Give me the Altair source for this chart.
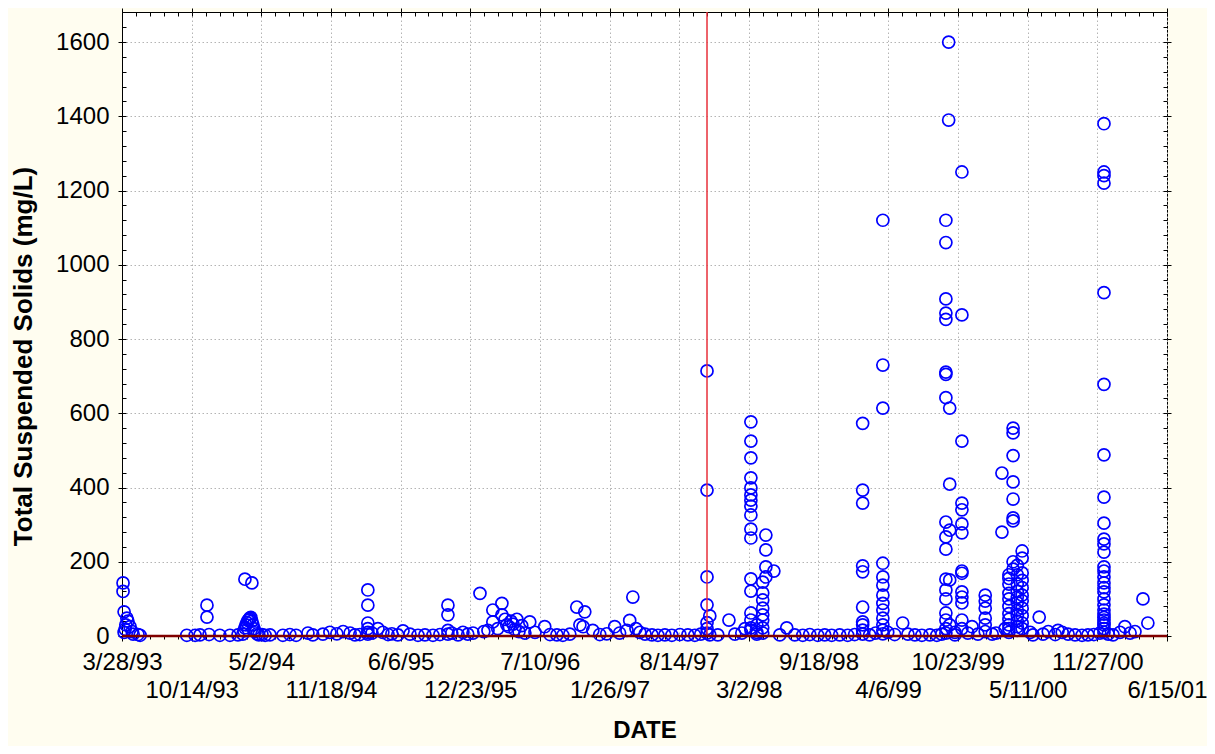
import altair as alt
import pandas as pd

# sampling dates and the TSS values (mg/L) measured on each date
event_dates = [
    "1993-03-31", "1993-04-03", "1993-04-06", "1993-04-08", "1993-04-11", "1993-04-14",
    "1993-04-20", "1993-04-26", "1993-04-29", "1993-05-13", "1993-05-19", "1993-09-30",
    "1993-10-24", "1993-11-07", "1993-11-27", "1993-12-03", "1994-01-03", "1994-02-01",
    "1994-02-24", "1994-03-10", "1994-03-13", "1994-03-16", "1994-03-19", "1994-03-22",
    "1994-03-25", "1994-03-28", "1994-03-30", "1994-04-02", "1994-04-05", "1994-04-08",
    "1994-04-11", "1994-04-14", "1994-04-20", "1994-04-25", "1994-05-04", "1994-05-13",
    "1994-05-27", "1994-07-03", "1994-07-23", "1994-08-10", "1994-09-13", "1994-09-27",
    "1994-10-26", "1994-11-15", "1994-12-05", "1994-12-23", "1995-01-12", "1995-01-26",
    "1995-02-09", "1995-03-04", "1995-03-16", "1995-04-02", "1995-04-16", "1995-05-01",
    "1995-05-12", "1995-05-29", "1995-06-13", "1995-07-03", "1995-07-26", "1995-08-15",
    "1995-09-07", "1995-09-27", "1995-10-20", "1995-10-31", "1995-11-18", "1995-12-02",
    "1995-12-16", "1995-12-31", "1996-01-20", "1996-01-31", "1996-02-12", "1996-02-26",
    "1996-03-11", "1996-03-23", "1996-04-01", "1996-04-06", "1996-04-12", "1996-04-18",
    "1996-04-24", "1996-04-29", "1996-05-05", "1996-05-11", "1996-05-19", "1996-05-28",
    "1996-06-11", "1996-06-26", "1996-07-24", "1996-08-08", "1996-08-28", "1996-09-14",
    "1996-10-04", "1996-10-24", "1996-11-02", "1996-11-11", "1996-11-16", "1996-12-09",
    "1996-12-29", "1997-01-18", "1997-02-10", "1997-02-24", "1997-03-17", "1997-03-25",
    "1997-04-03", "1997-04-12", "1997-04-23", "1997-05-08", "1997-05-28", "1997-06-14",
    "1997-07-04", "1997-07-24", "1997-08-16", "1997-09-08", "1997-09-28", "1997-10-15",
    "1997-11-02", "1997-11-10", "1997-12-03", "1998-01-04", "1998-01-21", "1998-02-10",
    "1998-02-19", "1998-03-08", "1998-03-25", "1998-04-11", "1998-04-20", "1998-05-13",
    "1998-05-30", "1998-06-19", "1998-07-12", "1998-08-04", "1998-08-24", "1998-09-16",
    "1998-10-06", "1998-10-26", "1998-11-18", "1998-12-11", "1998-12-31", "1999-01-23",
    "1999-02-12", "1999-03-01", "1999-03-22", "1999-04-05", "1999-04-25", "1999-05-18",
    "1999-06-02", "1999-06-22", "1999-07-12", "1999-08-04", "1999-08-24", "1999-09-07",
    "1999-09-19", "1999-09-27", "1999-09-30", "1999-10-15", "1999-11-04", "1999-11-21",
    "1999-12-03", "1999-12-20", "2000-01-10", "2000-01-30", "2000-02-10", "2000-02-27",
    "2000-03-07", "2000-03-18", "2000-03-30", "2000-04-11", "2000-04-25", "2000-05-18",
    "2000-05-26", "2000-06-13", "2000-06-24", "2000-07-09", "2000-07-29", "2000-08-06",
    "2000-08-18", "2000-09-04", "2000-09-24", "2000-10-14", "2000-10-31", "2000-11-17",
    "2000-12-04", "2000-12-16", "2000-12-28", "2001-01-11", "2001-01-31", "2001-02-14",
    "2001-03-01", "2001-03-15", "2001-04-07", "2001-04-21",
]

event_values = [
    [143, 120], [65, 10], [18], [30], [48], [40],
    [25], [12], [5], [4], [2], [2],
    [2], [3], [83, 51], [4], [2], [2],
    [3], [5], [14], [153, 22], [30], [36],
    [42], [45], [48], [50], [143, 40], [30],
    [20], [12], [6], [3], [4], [2],
    [3], [2], [4], [2], [8], [3],
    [5], [10], [6], [12], [8], [3],
    [4], [124, 83, 35, 20, 10, 5], [8], [20], [10], [4],
    [6], [3], [14], [5], [2], [3],
    [2], [4], [83, 57, 15, 5], [8], [3], [10],
    [5], [8], [115], [12], [15], [70, 38],
    [20], [88, 57], [45], [30], [25], [40],
    [32], [18], [45], [12], [28], [8],
    [38], [10], [25], [4], [3], [2],
    [5], [78], [30], [25], [65], [15],
    [4], [6], [25], [8], [15], [42],
    [105], [20], [10], [5], [3], [2],
    [3], [2], [4], [3], [2], [5],
    [714, 393, 159, 84, 36, 20, 8], [54, 3], [3], [43], [5], [8],
    [20], [577, 525, 480, 426, 399, 380, 366, 350, 326, 288, 264, 154, 121, 62, 43, 22, 16],
    [30, 10, 5], [145, 116, 97, 75, 57, 43, 22, 8], [272, 232, 186, 159], [175],
    [3], [22], [3], [2], [4], [2],
    [3], [2], [3], [2], [4], [573, 393, 358, 189, 173, 78, 38, 30, 16, 5],
    [3], [8], [1120, 730, 614, 196, 159, 137, 110, 88, 70, 48, 30, 16, 6], [10], [4], [35],
    [5], [3], [2], [3], [2], [5],
    [1120, 1060, 908, 870, 853, 711, 705, 642, 307, 267, 234, 153, 124, 100, 62, 43, 20, 8],
    [1600, 1390], [614, 409, 285, 151, 30], [10, 3],
    [1250, 865, 525, 358, 340, 302, 278, 175, 169, 119, 105, 89, 43, 20], [8],
    [25], [5], [110, 94, 75, 48, 30, 12], [5], [8], [439, 280],
    [20], [165, 155, 140, 115, 100, 80, 60, 45, 30, 20, 10],
    [560, 547, 486, 415, 369, 318, 310, 200, 180],
    [190, 165, 140, 120, 105, 90, 70, 55, 40, 25, 15],
    [229, 210, 170, 150, 130, 110, 95, 75, 55, 35, 20], [10],
    [3], [51], [5], [12], [4], [15],
    [10], [5], [3], [2], [3], [4],
    [8], [1380, 1250, 1240, 1220, 925, 678, 488, 374, 304, 261, 248, 226, 186, 175, 159,
          143, 130, 119, 100, 84, 70, 59, 50, 43, 35, 30, 20, 10],
    [5], [3], [10], [25],
    [8], [12], [100], [35],
]

tick_dates = [
    "1993-03-28", "1993-10-14", "1994-05-02", "1994-11-18", "1995-06-06", "1995-12-23",
    "1996-07-10", "1997-01-26", "1997-08-14", "1998-03-02", "1998-09-18", "1999-04-06",
    "1999-10-23", "2000-05-11", "2000-11-27", "2001-06-15",
]
y_ticks = [0, 200, 400, 600, 800, 1000, 1200, 1400, 1600]
marker_date = ["1997-11-02"]

rows = []
for d, vals in zip(event_dates, event_values):
    for v in vals:
        rows.append({"date": d, "tss": v})
df = pd.DataFrame(rows)


def ms(s):
    return int(pd.Timestamp(s, tz="UTC").timestamp() * 1000)


tick_ms = [ms(t) for t in tick_dates]
t0 = tick_ms[0]
step = tick_ms[1] - tick_ms[0]
DAY = 86400000
x_minor = [t0 + k * 40 * DAY for k in range(76) if k % 5 != 0]
x_all = [t0 + k * 40 * DAY for k in range(76)]
y_all = list(range(0, 1681, 40))

FONT = "Liberation Sans"
W, H = 1045, 624
x_scale = alt.Scale(type="utc", domain=[tick_ms[0], tick_ms[-1]], nice=False)
y_scale = alt.Scale(domain=[0, 1681], nice=False, zero=True)

fmt = "utcFormat(datum.value, '%-m/%-d/%y')"
label_expr = f"(round((datum.value - {t0}) / {step}) % 2 == 1) ? ['', {fmt}] : {fmt}"

points = alt.Chart(df).mark_point(
    shape="circle", filled=False, color="#0000ff", size=145, strokeWidth=1.7, opacity=1
).encode(
    x=alt.X(
        "date:T",
        scale=x_scale,
        axis=alt.Axis(
            orient="bottom",
            values=tick_ms,
            labelExpr=label_expr,
            labelLineHeight=28,
            labelOverlap=False,
            labelFlush=False,
            labelPadding=9,
            title="DATE",
            titlePadding=16,
            grid=True,
            tickSize=5,
        ),
    ),
    y=alt.Y(
        "tss:Q",
        scale=y_scale,
        axis=alt.Axis(
            orient="left",
            values=y_ticks,
            format="d",
            labelPadding=9,
            title="Total Suspended Solids (mg/L)",
            titleFontSize=26,
            titlePadding=19,
            titleY=344,
            grid=True,
            tickSize=4,
        ),
    ),
)


def tick_axis(**kw):
    base = dict(labels=False, grid=False, domain=False, title=None, tickColor="black")
    base.update(kw)
    return alt.Axis(**base)


ghost = alt.Chart(df).mark_point(opacity=0)

x_extra = [
    tick_axis(orient="bottom", values=x_minor, tickSize=3),
    tick_axis(orient="top", values=tick_ms, tickSize=4),
    tick_axis(orient="bottom", values=x_all, tickSize=4, offset=-H),
]
y_extra = [
    tick_axis(orient="right", values=y_all, tickSize=4, offset=-W),
    tick_axis(orient="right", values=y_ticks, tickSize=4),
    tick_axis(orient="left", values=y_all, tickSize=4, offset=-W),
]

frame_layers = [ghost.encode(x=alt.X("date:T", scale=x_scale, axis=a)) for a in x_extra]
frame_layers += [ghost.encode(y=alt.Y("tss:Q", scale=y_scale, axis=a)) for a in y_extra]

vline = alt.Chart(pd.DataFrame({"date": marker_date})).mark_rule(
    color="#e8303a", strokeWidth=1.5
).encode(x=alt.X("date:T", scale=x_scale, axis=None))

zero_line = alt.Chart(pd.DataFrame({"tss": [0]})).mark_rule(
    color="#800000", strokeWidth=2.5
).encode(y=alt.Y("tss:Q", scale=y_scale, axis=None))

chart = (
    alt.layer(points, *frame_layers, vline, zero_line)
    .resolve_axis(x="independent", y="independent")
    .properties(
        width=W,
        height=H,
        background="#fffdf0",
        autosize=alt.AutoSizeParams(type="none"),
        padding={"left": 114, "top": 4, "right": 40, "bottom": 110},
    )
    .configure_view(fill="white", stroke="black", strokeWidth=1)
    .configure_axis(
        labelFont=FONT,
        labelFontSize=24,
        labelColor="black",
        titleFont=FONT,
        titleFontSize=24,
        titleFontWeight="bold",
        titleColor="black",
        domainColor="black",
        tickColor="black",
        gridColor="#b4b4b4",
        gridDash=[1.5, 2.5],
        gridWidth=1,
    )
)

chart.save("out.html", embed_options={"renderer": "svg", "actions": False})
